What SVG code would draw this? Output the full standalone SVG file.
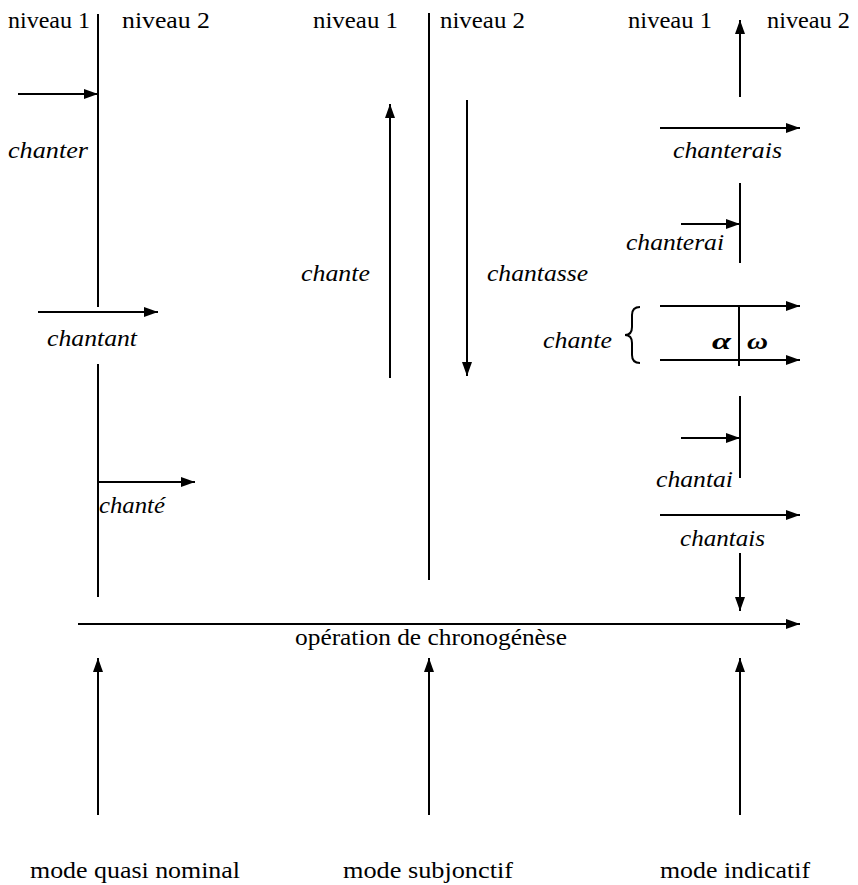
<svg xmlns="http://www.w3.org/2000/svg" width="858" height="885" viewBox="0 0 858 885">
<defs>
<marker id="ah" viewBox="0 0 14 10" refX="14" refY="5" markerWidth="14" markerHeight="10" markerUnits="userSpaceOnUse" orient="auto">
<path d="M0,0 L14,5 L0,10 Z" fill="#000"/>
</marker>
</defs>
<style>
.l{stroke:#000;stroke-width:2;fill:none}
.a{stroke:#000;stroke-width:2;fill:none;marker-end:url(#ah)}
text{fill:#000;font-family:'Liberation Serif','DejaVu Serif',serif;font-size:24px}
.i{font-style:italic}
.g{font-style:italic;font-weight:bold}
</style>
<rect width="858" height="885" fill="#fff"/>
<g id="headers">
<text x="8" y="28" textLength="82" lengthAdjust="spacingAndGlyphs">niveau 1</text>
<text x="122" y="28" textLength="88" lengthAdjust="spacingAndGlyphs">niveau 2</text>
<text x="313" y="28" textLength="85" lengthAdjust="spacingAndGlyphs">niveau 1</text>
<text x="440" y="28" textLength="85" lengthAdjust="spacingAndGlyphs">niveau 2</text>
<text x="628" y="28" textLength="84" lengthAdjust="spacingAndGlyphs">niveau 1</text>
<text x="767" y="28" textLength="83" lengthAdjust="spacingAndGlyphs">niveau 2</text>
</g>
<g id="connectors">
<line class="l" x1="98" y1="14" x2="98" y2="307"/>
<line class="l" x1="98" y1="364" x2="98" y2="597"/>
<line class="a" x1="18" y1="94" x2="98" y2="94"/>
<line class="a" x1="38" y1="312" x2="158" y2="312"/>
<line class="a" x1="98" y1="482" x2="195" y2="482"/>
<line class="l" x1="429" y1="13" x2="429" y2="580"/>
<line class="a" x1="390" y1="378" x2="390" y2="104"/>
<line class="a" x1="467" y1="100" x2="467" y2="376"/>
<line class="a" x1="740" y1="97" x2="740" y2="20"/>
<line class="a" x1="660" y1="128" x2="800" y2="128"/>
<line class="l" x1="740" y1="183" x2="740" y2="263"/>
<line class="a" x1="681" y1="224" x2="740" y2="224"/>
<line class="a" x1="660" y1="306" x2="800" y2="306"/>
<line class="a" x1="660" y1="360" x2="800" y2="360"/>
<line class="l" x1="739" y1="306" x2="739" y2="366"/>
<path class="l" d="M640,307 Q632,307 632,315 L632,327 Q632,335 625,335 Q632,335 632,343 L632,355 Q632,363 640,363" stroke-width="1.5"/>
<line class="l" x1="740" y1="396" x2="740" y2="478"/>
<line class="a" x1="681" y1="438" x2="740" y2="438"/>
<line class="a" x1="660" y1="515" x2="800" y2="515"/>
<line class="a" x1="740" y1="553" x2="740" y2="611"/>
<line class="a" x1="78" y1="624" x2="800" y2="624"/>
<line class="a" x1="98" y1="815" x2="98" y2="658"/>
<line class="a" x1="429" y1="815" x2="429" y2="658"/>
<line class="a" x1="740" y1="815" x2="740" y2="658"/>
</g>
<g id="labels">
<text class="i" x="8" y="158" textLength="80" lengthAdjust="spacingAndGlyphs">chanter</text>
<text class="i" x="47" y="346" textLength="90" lengthAdjust="spacingAndGlyphs">chantant</text>
<text class="i" x="99" y="513" textLength="66" lengthAdjust="spacingAndGlyphs">chanté</text>
<text class="i" x="301" y="281" textLength="69" lengthAdjust="spacingAndGlyphs">chante</text>
<text class="i" x="487" y="281" textLength="101" lengthAdjust="spacingAndGlyphs">chantasse</text>
<text class="i" x="673" y="158" textLength="109" lengthAdjust="spacingAndGlyphs">chanterais</text>
<text class="i" x="626" y="250" textLength="98" lengthAdjust="spacingAndGlyphs">chanterai</text>
<text class="i" x="543" y="348" textLength="69" lengthAdjust="spacingAndGlyphs">chante</text>
<text class="g" x="712" y="349" textLength="19" lengthAdjust="spacingAndGlyphs">α</text>
<text class="g" x="747" y="349" textLength="21" lengthAdjust="spacingAndGlyphs">ω</text>
<text class="i" x="656" y="487" textLength="77" lengthAdjust="spacingAndGlyphs">chantai</text>
<text class="i" x="680" y="546" textLength="85" lengthAdjust="spacingAndGlyphs">chantais</text>
<text x="295" y="645" textLength="272" lengthAdjust="spacingAndGlyphs">opération de chronogénèse</text>
<text x="30" y="878" textLength="210" lengthAdjust="spacingAndGlyphs">mode quasi nominal</text>
<text x="343" y="878" textLength="170" lengthAdjust="spacingAndGlyphs">mode subjonctif</text>
<text x="660" y="878" textLength="150" lengthAdjust="spacingAndGlyphs">mode indicatif</text>
</g>
</svg>
